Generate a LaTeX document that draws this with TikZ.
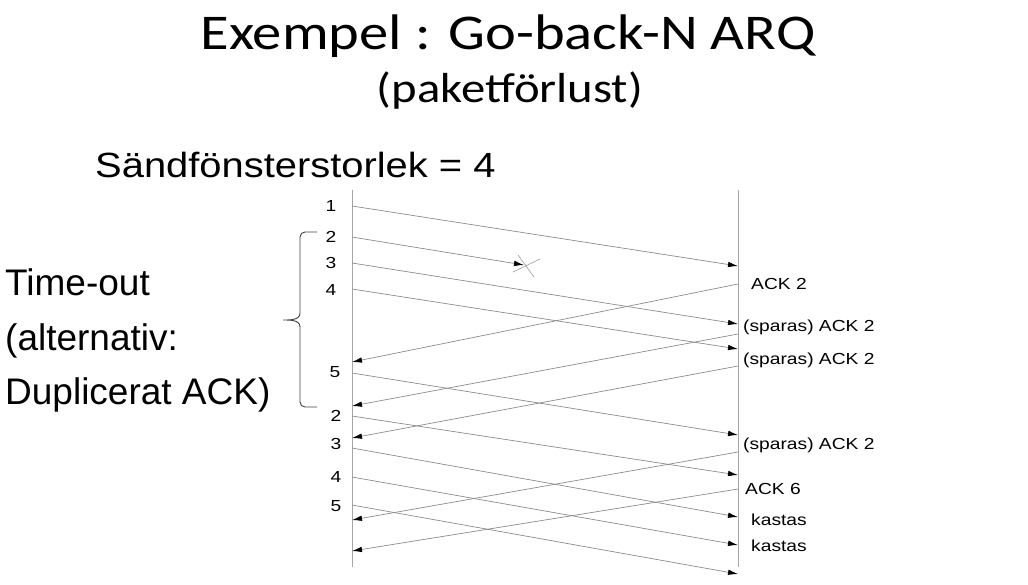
\documentclass[tikz,border=0pt]{standalone}
\usepackage{fontspec}
\setmainfont{Liberation Sans}
\newfontfamily\titelfont{Carlito}
\usetikzlibrary{arrows.meta}

\begin{document}
\begin{tikzpicture}[x=1pt,y=-1pt]
% Styles
\tikzstyle{axe}=[line width=1pt,color=black!35]
\tikzstyle{fleche}=[-{Latex[length=10pt,width=5.5pt,black]},line width=0.7pt,color=black!45]
\tikzstyle{croix}=[line width=0.7pt,color=black!35]
\tikzstyle{accolade}=[line width=0.9pt,color=black!75]
\tikzstyle{petit}=[font=\fontsize{16}{16}\selectfont,xscale=1.2,inner sep=0pt]
\tikzstyle{grand}=[font=\fontsize{37}{37}\selectfont,inner sep=0pt,anchor=base west]
% Cadre de l'image
\useasboundingbox (0,0) rectangle (1028,584);
% Dimensions
\def\xA{352}
\def\xB{738}
\def\haut{190}
\def\bas{567}
% Titres
\node[font=\titelfont\fontsize{50}{50}\selectfont,xscale=1.17,inner sep=0pt,anchor=base] (titre) at (508,49) {Exempel : Go-back-N ARQ};
\node[font=\titelfont\fontsize{42}{42}\selectfont,xscale=1.16,inner sep=0pt,anchor=base] (soustitre) at (510,102) {(paketförlust)};
\node[font=\fontsize{35}{35}\selectfont,xscale=1.14,inner sep=0pt,anchor=base west] (fenetre) at (95,177) {Sändfönsterstorlek = 4};
% Texte de gauche
\node[grand] (tmo) at (5,295) {Time-out};
\node[grand] (alt) at (5,350) {(alternativ:};
\node[grand] (dup) at (5,404) {Duplicerat ACK)};
% Axes du temps
\coordinate (emhaut) at (\xA,\haut);
\coordinate (embas) at (\xA,\bas);
\coordinate (rehaut) at (\xB,\haut);
\coordinate (rebas) at (\xB,\bas);
\draw[axe] (emhaut) -- (embas);
\draw[axe] (rehaut) -- (rebas);
% Trames de donnees : nom/depart/arrivee
\foreach \nom/\ya/\yb in {t1/206/266,t3/263/324,t4/289/349,t5/373/435,t6/416/475,t7/448/517,t8/477/545,t9/505/574}
{
  \coordinate (e\nom) at (\xA,\ya);
  \coordinate (r\nom) at (\xB,\yb);
  \draw[fleche] (e\nom) -- (r\nom);
}
% Trame perdue
\coordinate (et2) at (\xA,237);
\coordinate (perte) at (524,265);
\draw[fleche] (et2) -- (perte);
\coordinate (c1) at (518,255);
\coordinate (c2) at (534,277);
\coordinate (c3) at (513,272);
\coordinate (c4) at (540,259);
\draw[croix] (c1) -- (c2);
\draw[croix] (c3) -- (c4);
% Acquittements : nom/depart/arrivee
\foreach \nom/\ya/\yb in {a1/284/362,a2/334/406,a3/366/438,a4/452/520,a5/489/551}
{
  \coordinate (r\nom) at (\xB,\ya);
  \coordinate (e\nom) at (\xA,\yb);
  \draw[fleche] (r\nom) -- (e\nom);
}
% Numeros des trames
\node[petit] (n1) at (331,206) {1};
\node[petit] (n2) at (331,237) {2};
\node[petit] (n3) at (331,263) {3};
\node[petit] (n4) at (331,290) {4};
\node[petit] (n5) at (335,372) {5};
\node[petit] (n6) at (336,416) {2};
\node[petit] (n7) at (336,444) {3};
\node[petit] (n8) at (336,477) {4};
\node[petit] (n9) at (336,506) {5};
% Etiquettes du recepteur
\node[petit,anchor=west] (l1) at (751,284) {ACK 2};
\node[petit,anchor=west] (l2) at (743,327) {(sparas) ACK 2};
\node[petit,anchor=west] (l3) at (743,360) {(sparas) ACK 2};
\node[petit,anchor=west] (l4) at (743,445) {(sparas) ACK 2};
\node[petit,anchor=west] (l5) at (745,489) {ACK 6};
\node[petit,anchor=west] (l6) at (751,520) {kastas};
\node[petit,anchor=west] (l7) at (751,546) {kastas};
% Accolade
\coordinate (acchaut) at (317,232);
\coordinate (accpointe) at (283,320);
\coordinate (accbas) at (317,407);
\draw[accolade] (acchaut) -- (305,232) to[out=180,in=90] (300,237) -- (300,313)
  to[out=270,in=0] (accpointe) to[out=0,in=90] (300,327) -- (300,402)
  to[out=270,in=180] (305,407) -- (accbas);
\end{tikzpicture}
\end{document}
